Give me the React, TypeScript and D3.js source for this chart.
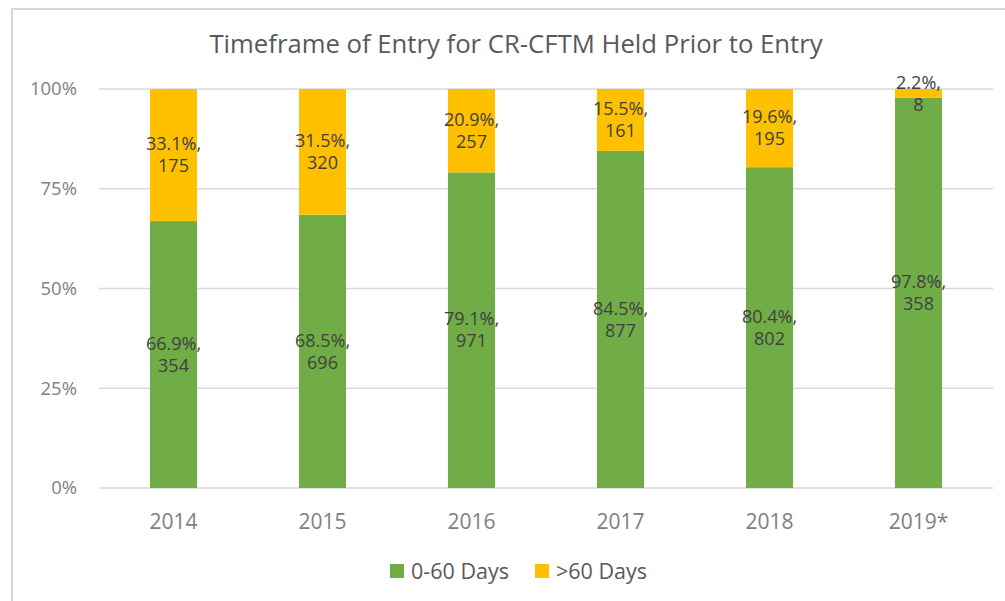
import React from "react";
import * as d3 from "d3";

const years = ["2014", "2015", "2016", "2017", "2018", "2019*"];
const shortPct = [66.9, 68.5, 79.1, 84.5, 80.4, 97.8];
const shortCount = [354, 696, 971, 877, 802, 358];
const longPct = [33.1, 31.5, 20.9, 15.5, 19.6, 2.2];
const longCount = [175, 320, 257, 161, 195, 8];
const yTicks = [0, 25, 50, 75, 100];
const seriesNames = ["0-60 Days", ">60 Days"];
const colors = ["#70AD47", "#FFC000"];

const W = 1005;
const H = 601;
const plot = { left: 99, right: 993, top: 89, bottom: 488 };
const font = "'Open Sans', sans-serif";

export default function App() {
  const x = d3.scaleBand<string>().domain(years).range([plot.left, plot.right]).padding(0);
  const y = d3.scaleLinear().domain([0, 100]).range([plot.bottom, plot.top]);
  const barW = x.bandwidth() * 0.316;

  const series = [
    { name: seriesNames[0], pct: shortPct, count: shortCount, color: colors[0] },
    { name: seriesNames[1], pct: longPct, count: longCount, color: colors[1] },
  ];

  const stacked = years.map((yr, i) => {
    let acc = 0;
    return series.map((s) => {
      const y0 = acc;
      acc += s.pct[i];
      return { yr, y0, y1: Math.min(acc, 100), pct: s.pct[i], count: s.count[i], color: s.color };
    });
  });

  return (
    <svg
      width={W}
      height={H}
      style={{ position: "absolute", left: 0, top: 0, background: "#fff" }}
      fontFamily={font}
    >
      <rect x={12} y={9} width={1030} height={620} fill="#fff" stroke="#D9D9D9" strokeWidth={2} />
      <text x={516} y={53} textAnchor="middle" fontSize={25.7} fill="#595959">
        Timeframe of Entry for CR-CFTM Held Prior to Entry
      </text>
      {yTicks.map((t) => (
        <g key={t}>
          <line x1={plot.left} x2={plot.right} y1={y(t)} y2={y(t)} stroke="#D9D9D9" strokeWidth={1.5} />
          <text x={77} y={y(t)} dy="0.35em" textAnchor="end" fontSize={18.5} fill="#808080">
            {t}%
          </text>
        </g>
      ))}
      {stacked.map((segs, i) =>
        segs.map((s, j) => (
          <rect
            key={`${i}-${j}`}
            x={(x(s.yr) as number) + x.bandwidth() / 2 - barW / 2}
            y={y(s.y1)}
            width={barW}
            height={y(s.y0) - y(s.y1)}
            fill={s.color}
          />
        ))
      )}
      {stacked.map((segs, i) =>
        segs.map((s, j) => {
          const cx = (x(s.yr) as number) + x.bandwidth() / 2;
          const cy = (y(s.y0) + y(s.y1)) / 2;
          return (
            <text key={`l${i}-${j}`} x={cx} textAnchor="middle" fontSize={18} fill="#404040">
              <tspan x={cx} y={cy - 11} dy="0.35em">{`${s.pct.toFixed(1)}%,`}</tspan>
              <tspan x={cx} y={cy + 11} dy="0.35em">{s.count}</tspan>
            </text>
          );
        })
      )}
      {years.map((yr) => (
        <text
          key={yr}
          x={(x(yr) as number) + x.bandwidth() / 2}
          y={522}
          dy="0.35em"
          textAnchor="middle"
          fontSize={21}
          fill="#808080"
        >
          {yr}
        </text>
      ))}
      {series.map((s, i) => {
        const lx = i === 0 ? 390 : 535;
        return (
          <g key={s.name}>
            <rect x={lx} y={564} width={14} height={14} fill={s.color} />
            <text x={lx + 21} y={571} dy="0.35em" fontSize={21.5} fill="#595959">
              {s.name}
            </text>
          </g>
        );
      })}
    </svg>
  );
}
